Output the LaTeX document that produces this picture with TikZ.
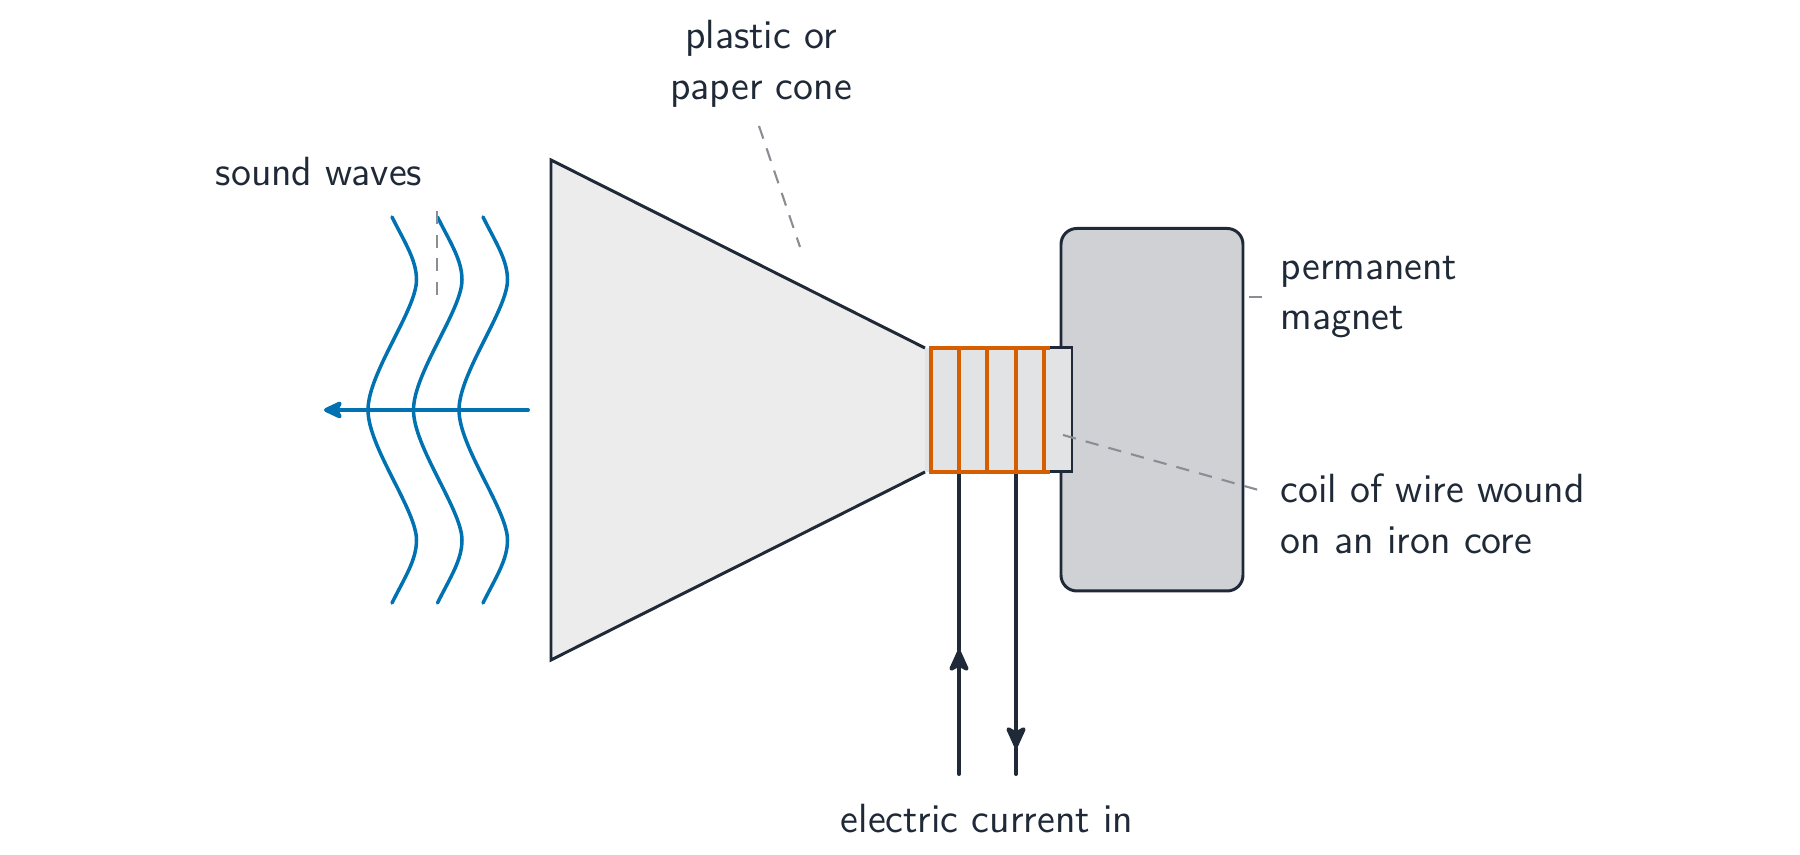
\documentclass[tikz,border=0pt]{standalone}
\usetikzlibrary{arrows.meta}
\definecolor{ink}{HTML}{1F2937}
\definecolor{wavecol}{HTML}{0072B2}
\definecolor{coilcol}{HTML}{D55E00}
\definecolor{leadcol}{HTML}{8A8D94}
\definecolor{conecol}{HTML}{ECECEC}
\definecolor{corecol}{HTML}{E2E3E5}
\definecolor{magcol}{HTML}{CFD1D5}
\tikzset{
  outline/.style={draw=ink,line width=.85pt,line join=miter},
  leader/.style={draw=leadcol,line width=.6pt,dash pattern=on 3.8pt off 2.9pt},
  wave/.style={draw=wavecol,line width=1pt,line cap=round},
  winding/.style={draw=coilcol,line width=1.1pt},
  lead/.style={draw=ink,line width=1.15pt,line cap=round},
  tiplead/.style={lead,-{Stealth[length=7.4pt,width=6.6pt,inset=1.8pt,round]}},
  label/.style={text=ink,font=\sffamily\fontsize{11.6}{14.4}\selectfont,align=left,inner sep=0pt},
}
\begin{document}
\begin{tikzpicture}
    \useasboundingbox (0,0) rectangle (18,8.55);
    % magnet
    \draw[outline,fill=magcol,rounded corners=4.5pt] (10.61,2.64) rectangle (12.43,6.265);
    % cone
    \draw[outline,fill=conecol] (9.25,5.07) -- (5.51,6.95) -- (5.51,1.95) -- (9.25,3.83);
    % iron core
    \fill[corecol] (9.25,3.83) rectangle (10.72,5.07);
    \draw[outline] (10.4,5.07) -- (10.72,5.07) -- (10.72,3.83) -- (10.4,3.83);
    % wires in
    \coordinate (inA) at (9.59,3.83);
    \coordinate (inB) at (10.16,3.83);
    \coordinate (inAend) at (9.59,.81);
    \coordinate (inBend) at (10.16,.81);
    \coordinate (inAtip) at (9.59,2.05);
    \coordinate (inBtip) at (10.16,1.07);
    \draw[lead] (inA) -- (inAtip);
    \draw[tiplead] (inAend) -- (inAtip);
    \draw[lead] (inBtip) -- (inBend);
    \draw[tiplead] (inB) -- (inBtip);
    % coil
    \draw[winding] (9.31,3.83) -- (9.31,5.07);
    \draw[winding] (9.59,3.83) -- (9.59,5.07);
    \draw[winding] (9.87,3.83) -- (9.87,5.07);
    \draw[winding] (10.16,3.83) -- (10.16,5.07);
    \draw[winding] (10.44,3.83) -- (10.44,5.07);
    \draw[winding] (9.29,5.07) -- (10.5,5.07);
    \draw[winding] (9.29,3.83) -- (10.5,3.83);
    % sound
    \foreach \dx in {0,.455,.91} {
      \draw[wave,xshift=\dx cm] (3.92,6.38) .. controls (4.05,6.12) and (4.165,5.95) .. (4.165,5.75)
        .. controls (4.165,5.45) and (3.68,4.82) .. (3.68,4.45)
        .. controls (3.68,4.08) and (4.165,3.45) .. (4.165,3.15)
        .. controls (4.165,2.95) and (4.05,2.78) .. (3.92,2.52);
    }
    \coordinate (soundR) at (5.28,4.45);
    \coordinate (soundL) at (3.24,4.45);
    \draw[draw=wavecol,line width=1.15pt,line cap=round,-{Stealth[length=6.5pt,width=6pt,inset=1.6pt,round]}] (soundR) -- (soundL);
    % labels
    \node[label,align=center] (conetxt) at (7.61,7.91) {plastic or\\paper cone};
    \node[label] (soundtxt) at (3.19,6.83) {sound waves};
    \node[label,anchor=west] (magnettxt) at (12.8,5.58) {permanent\\magnet};
    \node[label,anchor=west] (coiltxt) at (12.8,3.41) {coil of wire wound\\on an iron core};
    \node[label] (currenttxt) at (9.87,.36) {electric current in};
    % leaders
    \coordinate (coneA) at (7.59,7.29);
    \coordinate (coneB) at (8.0,6.08);
    \coordinate (soundA) at (4.37,6.44);
    \coordinate (soundB) at (4.37,5.59);
    \coordinate (magnetA) at (12.62,5.58);
    \coordinate (magnetB) at (12.45,5.58);
    \coordinate (coilA) at (12.62,3.64);
    \coordinate (coilB) at (10.63,4.20);
    \draw[leader] (coneA) -- (coneB);
    \draw[leader] (soundA) -- (soundB);
    \draw[leader] (magnetA) -- (magnetB);
    \draw[leader] (coilB) -- (coilA);
  \end{tikzpicture}
\end{document}
